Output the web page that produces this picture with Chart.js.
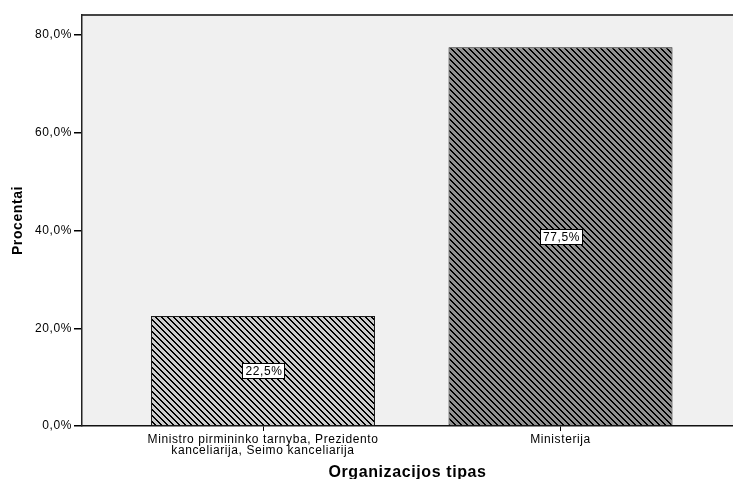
<!DOCTYPE html>
<html>
<head>
<meta charset="utf-8">
<script src="https://cdn.jsdelivr.net/npm/chart.js@4"></script>
<style>
  html, body { margin: 0; padding: 0; background: #fff; overflow: hidden; }
  #wrap { position: relative; width: 733px; height: 485px; }
</style>
</head>
<body>
<div id="wrap"><canvas id="c"></canvas></div>
<script>
// Organisation types (multi-line labels are arrays of lines)
const categories = [
  ['Ministro pirmininko tarnyba, Prezidento', 'kanceliarija, Seimo kanceliarija'],
  ['Ministerija']
];
// Share of respondents per organisation type, %
const percentValues = [22.5, 77.5];
// Value axis ticks, %
const yTickValues = [0, 20, 40, 60, 80];

const xAxisTitle = 'Organizacijos tipas';
const yAxisTitle = 'Procentai';

const FONT = '"Liberation Sans", Arial, Helvetica, sans-serif';
const fmtPct = v => v.toFixed(1).replace('.', ',') + '%';

const canvas = document.getElementById('c');
const ctx = canvas.getContext('2d');

// Diagonal hatch fill: black stripes running top-left to bottom-right
function hatchPattern(shade) {
  const period = 6;
  const tile = document.createElement('canvas');
  tile.width = period;
  tile.height = period;
  const g = tile.getContext('2d');
  g.fillStyle = shade;
  g.fillRect(0, 0, period, period);
  g.fillStyle = '#000';
  for (let y = 0; y < period; y++) {
    for (let k = 0; k < 2; k++) {
      g.fillRect((y + k) % period, y, 1, 1);
    }
  }
  return ctx.createPattern(tile, 'repeat');
}
const barFills = [hatchPattern('#cbcbcb'), hatchPattern('#909090')];

// Slightly loose letter spacing for all canvas text
const SPACING = '0.6px';
const spacing = {
  id: 'spacing',
  beforeUpdate(chart) { chart.ctx.letterSpacing = SPACING; },
  beforeDraw(chart) { chart.ctx.letterSpacing = SPACING; }
};

// Grey plot background and the frame line along the top
const plotFrame = {
  id: 'plotFrame',
  beforeDraw(chart) {
    const { ctx, chartArea: a } = chart;
    ctx.save();
    ctx.fillStyle = '#f0f0f0';
    ctx.fillRect(a.left, a.top, a.right - a.left, a.bottom - a.top);
    ctx.fillStyle = '#444';
    ctx.fillRect(a.left, a.top - 1, a.right - a.left, 2);
    ctx.restore();
  }
};

// Boxed value label in the middle of each bar
const valueBoxes = {
  id: 'valueBoxes',
  afterDatasetsDraw(chart) {
    const c = chart.ctx;
    const meta = chart.getDatasetMeta(0);
    c.save();
    c.font = '12px ' + FONT;
    c.letterSpacing = SPACING;
    meta.data.forEach((bar, i) => {
      const text = fmtPct(percentValues[i]);
      const w = c.measureText(text).width;
      const cx = bar.x;
      const cy = (bar.y + bar.base) / 2;
      const bw = Math.round(w + 5);
      const bh = 15;
      const bx = Math.round(cx - bw / 2) + 0.5;
      const by = Math.round(cy - bh / 2) + 0.5;
      c.fillStyle = '#fff';
      c.fillRect(bx, by, bw, bh);
      c.strokeStyle = '#000';
      c.lineWidth = 1;
      c.strokeRect(bx, by, bw, bh);
      c.fillStyle = '#000';
      c.textAlign = 'center';
      c.textBaseline = 'middle';
      c.fillText(text, cx + 1, cy + 1);
    });
    c.restore();
  }
};

Chart.defaults.font.family = FONT;
Chart.defaults.color = '#000';

new Chart(ctx, {
  type: 'bar',
  data: {
    datasets: [{
      data: percentValues.map((v, i) => ({ x: i, y: v })),
      backgroundColor: barFills,
      borderColor: '#1a1a1a',
      borderWidth: 1,
      barPercentage: 0.753,
      categoryPercentage: 1
    }]
  },
  options: {
    animation: false,
    responsive: true,
    maintainAspectRatio: false,
    layout: { padding: { top: 15, left: 0, right: 0, bottom: 0 } },
    plugins: {
      legend: { display: false },
      tooltip: { enabled: false }
    },
    scales: {
      x: {
        type: 'linear',
        min: -0.6084,
        max: 1.5798,
        offset: false,
        afterBuildTicks: s => { s.ticks = categories.map((_, i) => ({ value: i })); },
        afterFit: s => { s.height = 59; },
        grid: { offset: false, drawOnChartArea: false, drawTicks: true, tickLength: 5, color: '#000', lineWidth: 1 },
        border: { display: true, color: '#111', width: 1.5 },
        ticks: {
          autoSkip: false,
          maxRotation: 0,
          minRotation: 0,
          padding: 4,
          color: '#000',
          font: { size: 12, lineHeight: 0.85 },
          callback: v => categories[v]
        },
        title: {
          display: true,
          text: xAxisTitle,
          color: '#000',
          font: { size: 16, weight: 'bold' },
          padding: { top: 0, bottom: 3 }
        }
      },
      y: {
        min: 0,
        max: 84.1,
        afterBuildTicks: s => { s.ticks = yTickValues.map(v => ({ value: v })); },
        afterFit: s => { s.width = 82; },
        grid: { drawOnChartArea: false, drawTicks: true, tickLength: 8, color: '#000', lineWidth: 1.5 },
        border: { display: true, color: '#222', width: 1.5 },
        ticks: {
          padding: 2,
          color: '#000',
          font: { size: 12 },
          callback: v => fmtPct(v)
        },
        title: {
          display: true,
          text: yAxisTitle,
          color: '#000',
          font: { size: 14, weight: 'bold' },
          padding: { top: 10, bottom: 0 }
        }
      }
    }
  },
  plugins: [spacing, plotFrame, valueBoxes]
});
</script>
</body>
</html>
